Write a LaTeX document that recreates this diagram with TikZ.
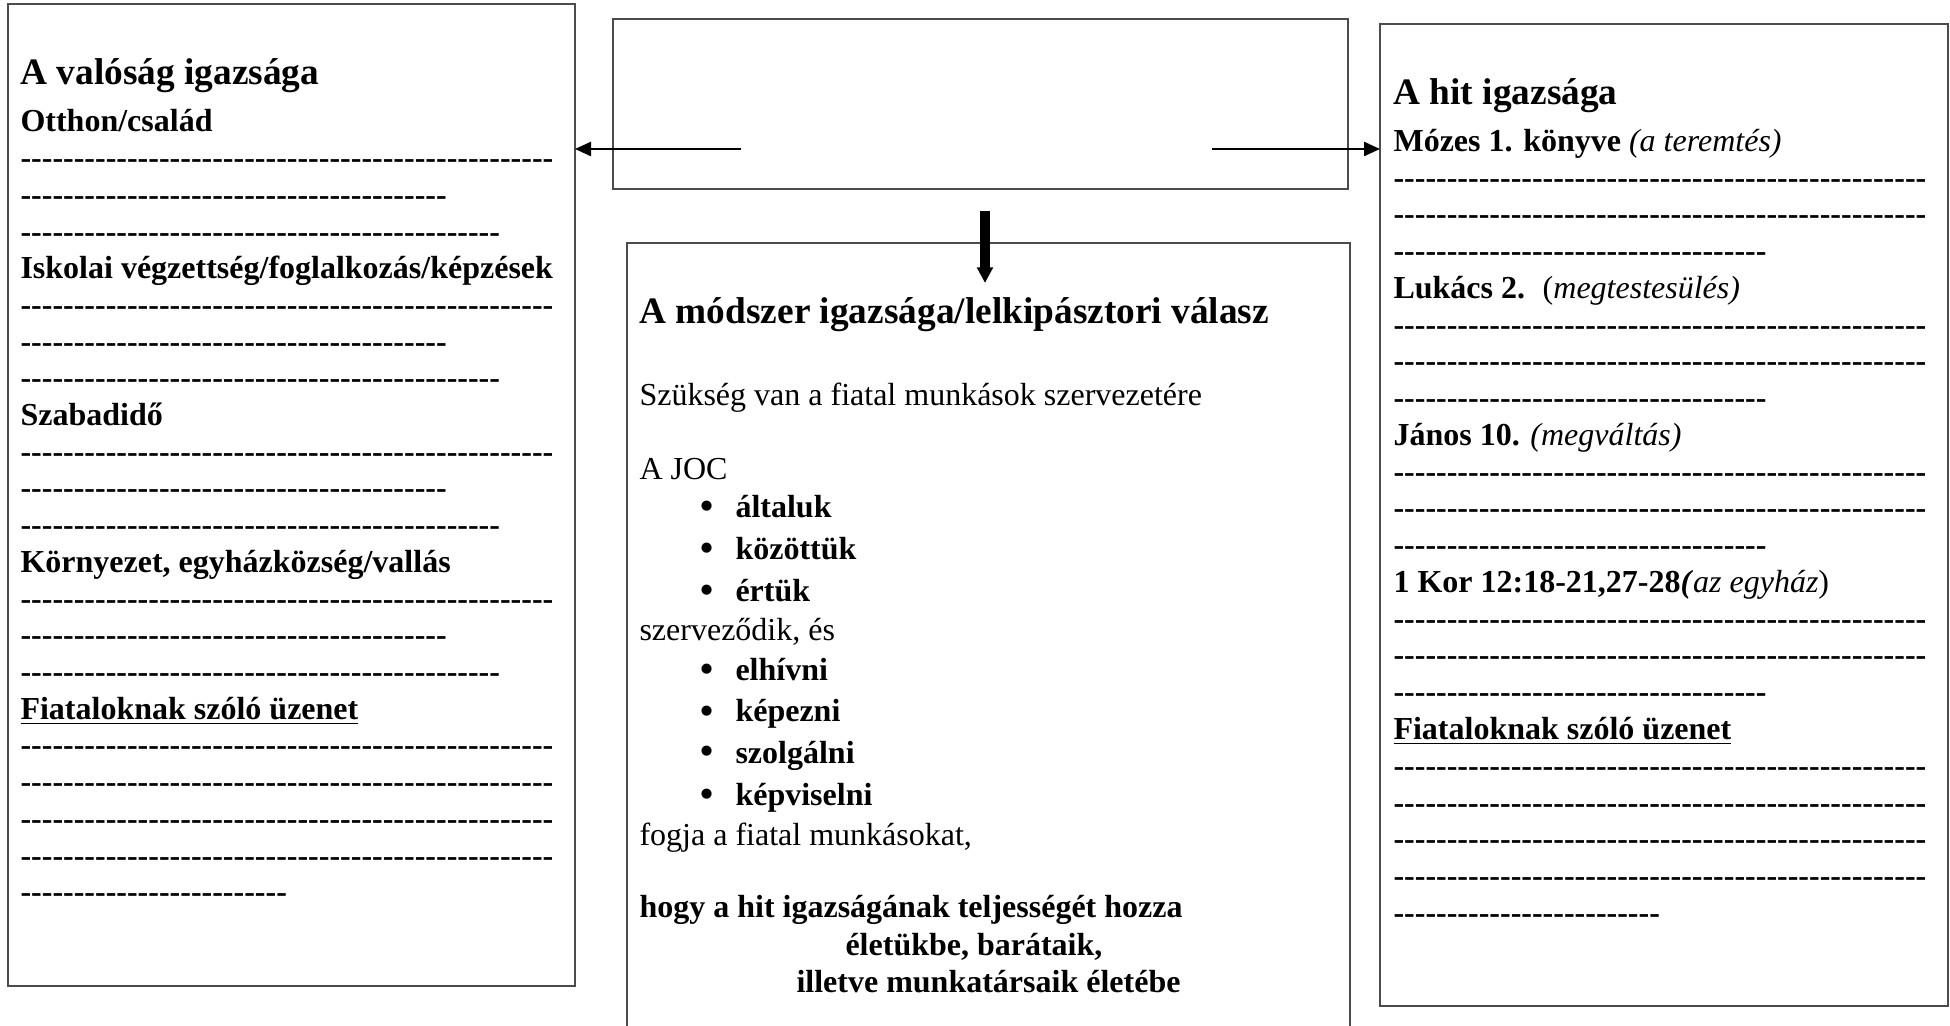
\documentclass[tikz,border=0pt]{standalone}
\usepackage{fontspec}
\setmainfont{Liberation Serif}
\usetikzlibrary{arrows.meta,fit}
\newcommand\hyph[1]{\foreach \k in {1,...,#1}{-\kern0pt}}
\begin{document}
\begin{tikzpicture}[x=0.375pt,y=-0.375pt,
  frame/.style={draw=black!70, line width=0.5pt, inner sep=0pt, outer sep=0pt},
  tl/.style={anchor=base west, inner sep=0pt, font=\fontsize{12}{14}\selectfont},
  hd/.style={tl, font=\fontsize{12}{14}\selectfont\bfseries},
  ttl/.style={anchor=base west, inner sep=0pt, font=\fontsize{14}{16}\selectfont\bfseries},
  dl/.style={hd},
  bul/.style={anchor=base, inner sep=0pt, font=\fontsize{14}{16}\selectfont\bfseries},
  thinarrow/.style={-{Triangle[length=6pt,width=5.3pt]}, line width=0.75pt},
  thickarrow/.style={-{Triangle[length=5.9pt,width=5.8pt]}, line width=3.4pt}]
\useasboundingbox (0,0) rectangle (1950,1026);
% boxes
\node (lbox) [frame, fit={(8,4) (575,986)}] {};
\node (tbox) [frame, fit={(613,19) (1348,189)}] {};
\node (mbox) [frame, fit={(627,243) (1350,1060)}] {};
\node (rbox) [frame, fit={(1380,24) (1948,1006)}] {};
% connectors
\coordinate (la) at (741,149);
\coordinate (ra) at (1212,149);
\coordinate (da) at (985,211);
\coordinate (db) at (985,283);
\draw[thinarrow] (la) -- (la -| lbox.east);
\draw[thinarrow] (ra) -- (ra -| rbox.west);
\draw[thickarrow] (da) -- (db);
\begin{scope}[shift={(0,2)}]
% left box
\node (lt) [ttl] at (20,83) {A valóság igazsága};
\node (l0) [hd] at (20,130) {Otthon/család};
\node (l4) [hd] at (20,{130+36.7*4}) {Iskolai végzettség/foglalkozás/képzések};
\node (l8) [hd] at (20,{130+36.7*8}) {Szabadidő};
\node (l12) [hd] at (20,{130+36.7*12}) {Környezet, egyházközség/vallás};
\node (l16) [hd] at (20,{130+36.7*16}) {\underline{Fiataloknak szóló üzenet}};
\foreach \n/\c in {1/50,2/40,3/45,5/50,6/40,7/45,9/50,10/40,11/45,13/50,14/40,15/45,17/50,18/50,19/50,20/50,21/25}
  \node (ld\n) [dl] at (20,{130+36.7*\n}) {\hyph{\c}};
% right box
\node (rt) [ttl] at (1393,103) {A hit igazsága};
\node (r0) [tl] at (1393,149.5) {\textbf{Mózes 1. könyve} \textit{(a teremtés)}};
\node (r4) [tl] at (1393,{149.5+36.75*4}) {\textbf{Lukács 2.}\hspace{0.55em}(\textit{megtestesülés)}};
\node (r8) [tl] at (1393,{149.5+36.75*8}) {\textbf{János 10.} \textit{(megváltás)}};
\node (r12) [tl] at (1393,{149.5+36.75*12}) {\textbf{1 Kor 12:18-21,27-28\textit{(}}\textit{az egyház})};
\node (r16) [hd] at (1393,{149.5+36.75*16}) {\underline{Fiataloknak szóló üzenet}};
\foreach \n/\c in {1/50,2/50,3/35,5/50,6/50,7/35,9/50,10/50,11/35,13/50,14/50,15/35,17/50,18/50,19/50,20/50,21/25}
  \node (rd\n) [dl] at (1393,{149.5+36.75*\n}) {\hyph{\c}};
% middle box
\node (mt) [ttl] at (639,322) {A módszer igazsága/lelkipásztori válasz};
\node (m1) [tl] at (639,404) {Szükség van a fiatal munkások szervezetére};
\node (m2) [tl] at (639,478) {A JOC};
\node (b1) [bul] at (707,517) {•};
\node (m3) [hd] at (735,516) {általuk};
\node (b2) [bul] at (707,559) {•};
\node (m4) [hd] at (735,558) {közöttük};
\node (b3) [bul] at (707,601) {•};
\node (m5) [hd] at (735,600) {értük};
\node (m6) [tl] at (639,639) {szerveződik, és};
\node (b4) [bul] at (707,680) {•};
\node (m7) [hd] at (735,679) {elhívni};
\node (b5) [bul] at (707,721) {•};
\node (m8) [hd] at (735,720) {képezni};
\node (b6) [bul] at (707,762) {•};
\node (m9) [hd] at (735,761) {szolgálni};
\node (b7) [bul] at (707,804) {•};
\node (m10) [hd] at (735,803) {képviselni};
\node (m11) [tl] at (639,843) {fogja a fiatal munkásokat,};
\node (m12) [hd] at (639,915) {hogy a hit igazságának teljességét hozza};
\node (m13) [hd] at (845,953) {életükbe, barátaik,};
\node (m14) [hd] at (796,990) {illetve munkatársaik életébe};
\end{scope}
\end{tikzpicture}
\end{document}
